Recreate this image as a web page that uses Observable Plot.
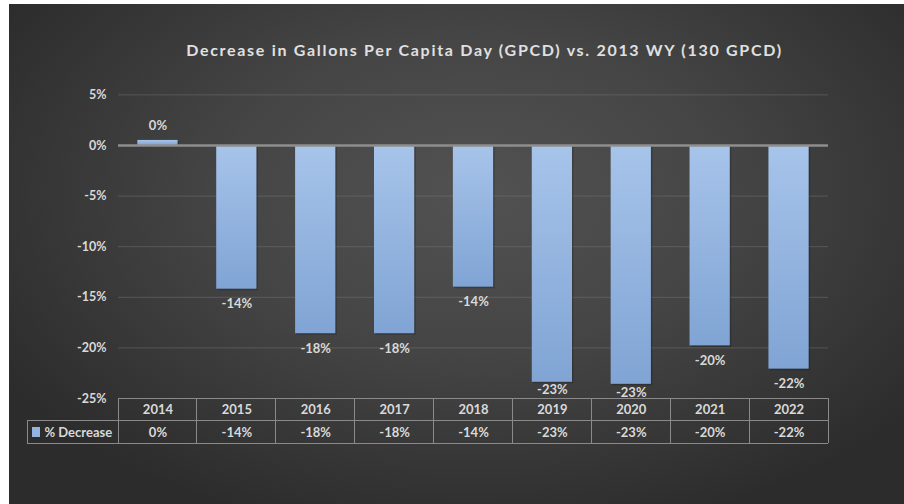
<!DOCTYPE html>
<html><head><meta charset="utf-8">
<script src="https://cdn.jsdelivr.net/npm/d3@7"></script>
<script src="https://cdn.jsdelivr.net/npm/@observablehq/plot@0.6"></script>
<style>
html,body{margin:0;padding:0;background:#fff;}
#chart{position:absolute;left:9px;top:4px;width:895px;height:500px;}
</style></head><body><div id="chart"></div>
<script>
const years = ["2014","2015","2016","2017","2018","2019","2020","2021","2022"];
const values = [0.5,-14.2,-18.6,-18.6,-14.0,-23.4,-23.6,-19.8,-22.1];
const labels = ["0%","-14%","-18%","-18%","-14%","-23%","-23%","-20%","-22%"];
const yTicks = [5,0,-5,-10,-15,-20,-25];
const gridTicks = [5,-5,-10,-15,-20];
const seriesName = "% Decrease";
const title = "Decrease in Gallons Per Capita Day (GPCD) vs. 2013 WY (130 GPCD)";

const data = years.map((year,i)=>({year, value: values[i], label: labels[i]}));
const font = "Lato, 'Open Sans', sans-serif";
const txt = "#d9d9d9";
const deep = -23; // labels below this sit closer to the bar (table below)

const plot = Plot.plot({
  width: 895, height: 500,
  marginLeft: 109, marginRight: 76, marginTop: 90.4, marginBottom: 106,
  style: {
    background: "radial-gradient(ellipse 62% 70% at 52% 38%, #525252 0%, #454545 45%, #2c2c2c 100%)",
    fontFamily: font, fontWeight: "bold", fontSize: "12px", color: txt, overflow: "visible"
  },
  x: {domain: years, paddingInner: 0.49, paddingOuter: 0.245, round: false, axis: null},
  y: {domain: [-25, 5], label: null},
  marks: [
    () => {
      const ns = "http://www.w3.org/2000/svg";
      const g = document.createElementNS(ns, "defs");
      g.innerHTML = `<linearGradient id="barGrad" x1="0" y1="0" x2="0" y2="1">
        <stop offset="0" stop-color="#a7c4ea"/><stop offset="1" stop-color="#80a4d4"/></linearGradient>`;
      return g;
    },
    Plot.ruleY(gridTicks, {stroke: "#7a7a7a", strokeOpacity: 0.45, strokeWidth: 1}),
    Plot.axisY({ticks: yTicks, tickFormat: d => d + "%", tickSize: 0, tickPadding: 12, fill: txt, fontWeight: "bold", fontSize: 12.5, label: null}),
    Plot.barY(data, {x: "year", y: "value", fill: "#111", fillOpacity: 0.25, dx: 1.5, dy: 1.5}),
    Plot.barY(data, {x: "year", y: "value", fill: "url(#barGrad)"}),
    Plot.ruleY([0], {stroke: "#8e8e8e", strokeWidth: 2.5}),
    Plot.text(data, {filter: d => d.value >= 0, x: "year", y: "value", text: "label", dy: -15, fill: txt, fontSize: 13}),
    Plot.text(data, {filter: d => d.value < 0 && d.value > deep, x: "year", y: "value", text: "label", dy: 15, fill: txt, fontSize: 13}),
    Plot.text(data, {filter: d => d.value <= deep, x: "year", y: "value", text: "label", dy: 8, fill: txt, fontSize: 13}),
    Plot.text(data, {x: "year", text: "year", frameAnchor: "bottom", lineAnchor: "middle", dy: 11.5, fill: txt, fontSize: 13}),
    Plot.text(data, {x: "year", text: "label", frameAnchor: "bottom", lineAnchor: "middle", dy: 34, fill: txt, fontSize: 13}),
    Plot.text([seriesName], {frameAnchor: "bottom-left", textAnchor: "start", lineAnchor: "middle", dx: -74, dy: 34, fill: txt, fontSize: 13}),
    Plot.text([title], {frameAnchor: "top", lineAnchor: "middle", dx: 11, dy: -44, fill: "#e0e0e0", fontSize: 16, fontWeight: "bold", className: "title"})
  ]
});
document.getElementById("chart").appendChild(plot);

// table grid drawn from the plot's own scales
const xs = plot.scale("x"), ys = plot.scale("y");
const svg = d3.select(plot);
svg.selectAll(".title text, text.title, g.title text").style("letter-spacing", "1.7px");
const step = xs.step, bw = xs.bandwidth;
const cellL = d => xs.apply(d) - (step - bw) / 2;
const x0 = cellL(years[0]);
const x1 = cellL(years[years.length - 1]) + step;
const yTop = ys.apply(-25);
const rowH = 22.5;
const legendL = x0 - 91;
const g = svg.append("g").attr("stroke", "#8a8a8a").attr("stroke-width", 1).attr("fill", "none").attr("shape-rendering", "crispEdges");
g.append("line").attr("x1", x0).attr("x2", x1).attr("y1", yTop).attr("y2", yTop);
g.append("line").attr("x1", legendL).attr("x2", x1).attr("y1", yTop + rowH).attr("y2", yTop + rowH);
g.append("line").attr("x1", legendL).attr("x2", x1).attr("y1", yTop + 2 * rowH).attr("y2", yTop + 2 * rowH);
years.forEach(d => g.append("line").attr("x1", cellL(d)).attr("x2", cellL(d)).attr("y1", yTop).attr("y2", yTop + 2 * rowH));
g.append("line").attr("x1", x1).attr("x2", x1).attr("y1", yTop).attr("y2", yTop + 2 * rowH);
g.append("line").attr("x1", legendL).attr("x2", legendL).attr("y1", yTop + rowH).attr("y2", yTop + 2 * rowH);
svg.append("rect").attr("x", legendL + 5).attr("y", yTop + rowH + 6.5).attr("width", 8).attr("height", 10).attr("fill", "#94b4e0");
</script></body></html>
